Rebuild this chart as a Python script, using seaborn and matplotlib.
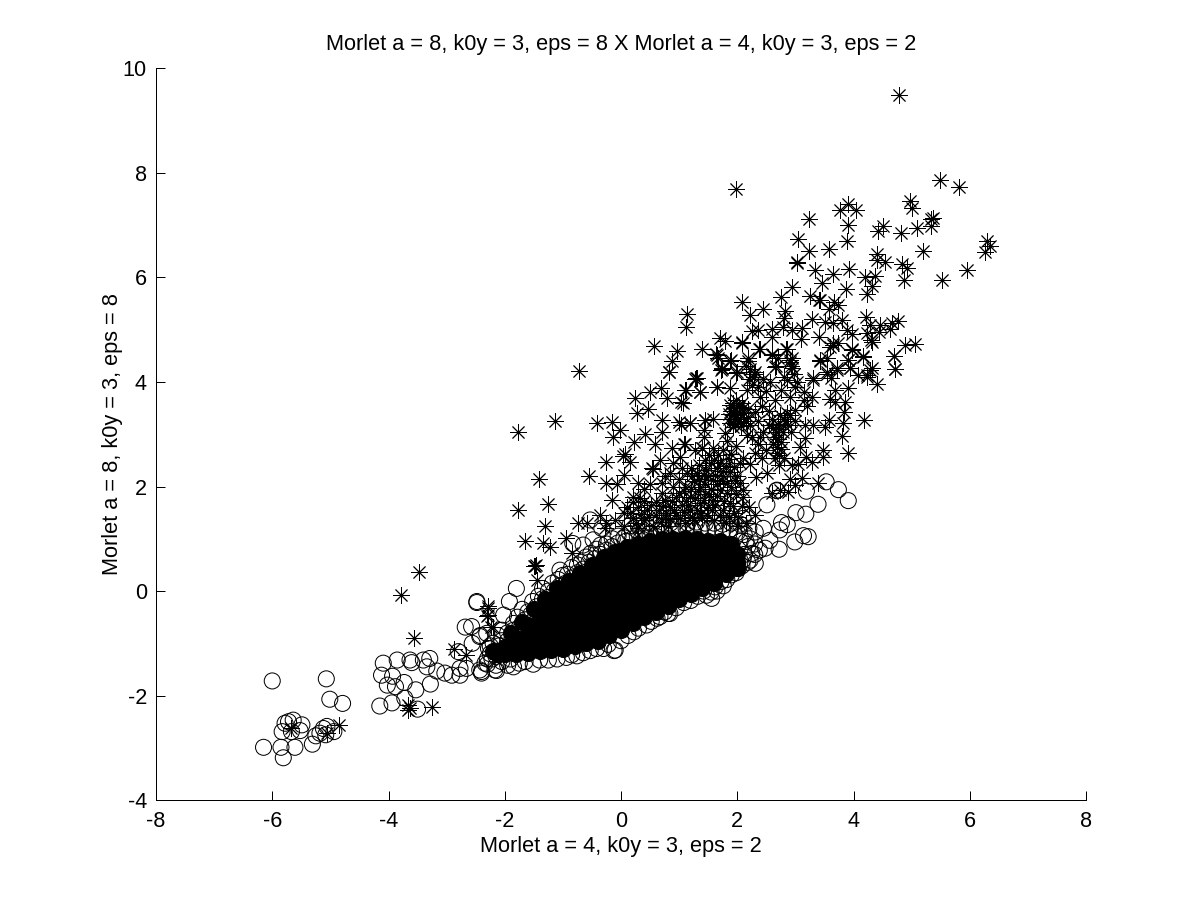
import matplotlib
matplotlib.use("Agg")
import matplotlib.pyplot as plt
import pandas as pd
import seaborn as sns

# values, (x, y)
star_pts = [
    (4.79, 9.50), (1.98, 7.70), (5.49, 7.86), (5.82, 7.73), (4.98, 7.47), (5.00, 7.32), (3.91, 7.41), (3.77, 7.29),
    (4.05, 7.30), (3.24, 7.12), (5.37, 7.13), (5.34, 7.11), (5.33, 6.99), (3.91, 7.00), (3.89, 6.70), (4.51, 6.98),
    (4.43, 6.89), (4.81, 6.86), (5.09, 6.94), (6.29, 6.70), (6.35, 6.60), (6.27, 6.49), (3.05, 6.73), (3.23, 6.50),
    (3.57, 6.55), (3.03, 6.30), (3.02, 6.28), (3.33, 6.15), (3.64, 6.06), (3.93, 6.17), (4.40, 6.45), (4.41, 6.33),
    (4.54, 6.29), (4.83, 6.25), (4.92, 6.18), (5.19, 6.51), (4.87, 5.96), (5.53, 5.96), (5.96, 6.15), (4.20, 6.01),
    (4.37, 6.03), (4.31, 5.84), (4.23, 5.69), (3.87, 5.77), (3.45, 5.90), (2.94, 5.81), (2.76, 5.62), (3.25, 5.64),
    (3.40, 5.57), (3.42, 5.56), (3.67, 5.53), (3.74, 5.47), (3.57, 5.39), (2.09, 5.53), (2.45, 5.39), (2.22, 5.29),
    (2.83, 5.36), (2.80, 5.23), (3.29, 5.21), (1.14, 5.31), (1.12, 5.06), (2.79, 5.06), (2.94, 5.00), (3.11, 5.04),
    (2.59, 5.02), (2.35, 4.99), (2.26, 4.98), (3.51, 5.15), (3.64, 5.12), (3.81, 5.18), (4.21, 5.25), (4.28, 5.09),
    (4.46, 5.09), (4.66, 5.12), (4.76, 5.16), (4.63, 5.02), (4.44, 4.95), (4.23, 4.93), (3.97, 4.92), (3.89, 5.00),
    (1.71, 4.85), (1.79, 4.78), (2.08, 4.76), (2.60, 4.86), (3.10, 4.83), (3.41, 4.86), (3.65, 4.74), (3.74, 4.74),
    (3.60, 4.67), (4.30, 4.80), (0.57, 4.69), (0.97, 4.59), (1.39, 4.64), (2.37, 4.64), (2.84, 4.64), (3.97, 4.62),
    (4.89, 4.71), (5.06, 4.72), (1.63, 4.53), (1.67, 4.45), (0.87, 4.40), (1.89, 4.43), (2.60, 4.51), (2.19, 4.45),
    (2.91, 4.42), (3.42, 4.40), (3.54, 4.45), (3.91, 4.43), (4.17, 4.50), (4.70, 4.50), (0.83, 4.20), (1.72, 4.23),
    (1.98, 4.18), (2.28, 4.16), (2.66, 4.30), (2.92, 4.30), (3.54, 4.16), (3.71, 4.23), (3.94, 4.26), (4.28, 4.23),
    (4.71, 4.24), (1.30, 4.07), (3.31, 4.07), (4.23, 4.13),
    # upper fan, middle
    (1.65, 4.51), (2.08, 4.74), (2.39, 4.64), (2.59, 4.53), (2.85, 4.64), (3.65, 4.70), (3.97, 4.64), (4.31, 4.77),
    (1.88, 4.40), (1.73, 4.24), (2.19, 4.40), (1.99, 4.19), (2.30, 4.19), (2.28, 4.10), (2.65, 4.29), (2.91, 4.39),
    (2.94, 4.26), (2.56, 4.00), (2.85, 4.04), (3.02, 4.00), (3.31, 4.04), (3.42, 4.42), (3.71, 4.26), (3.54, 4.19),
    (3.62, 4.07), (3.91, 4.42), (4.17, 4.48), (3.94, 4.26), (4.31, 4.26), (4.23, 4.10), (4.08, 4.13), (4.41, 3.97),
    (4.70, 4.49), (4.71, 4.24), (3.90, 3.88), (1.27, 4.05), (1.12, 3.84), (1.36, 3.81), (1.65, 3.91), (1.88, 3.88),
    (2.16, 3.84), (2.39, 3.72), (2.65, 3.65), (2.91, 3.72), (3.14, 3.65), (3.28, 3.72), (2.99, 3.91), (3.68, 3.84),
    (3.60, 3.68), (3.85, 3.62), (3.84, 3.43), (3.68, 3.62), (1.06, 3.59), (1.88, 3.56), (1.99, 3.43), (1.85, 3.30),
    (2.19, 3.33), (1.93, 3.14), (2.10, 3.21), (1.79, 3.02), (2.16, 2.98), (2.39, 2.95), (2.54, 3.17), (2.74, 3.37),
    (2.91, 3.37), (2.88, 3.17), (3.00, 3.46), (3.17, 3.17), (3.31, 3.17), (3.57, 3.27), (3.51, 3.13), (3.82, 3.21),
    (4.18, 3.28), (3.80, 2.97), (3.17, 2.92), (2.65, 2.95), (2.68, 2.76), (3.47, 2.70), (3.91, 2.65), (3.08, 2.76),
    (3.48, 2.57), (3.19, 2.57), (3.29, 2.47), (2.65, 2.54), (2.71, 2.41), (2.94, 2.41), (3.05, 2.44), (1.44, 3.27),
    (1.59, 3.30), (1.19, 3.21), (1.04, 3.17), (1.42, 3.08), (1.42, 2.95), (1.10, 2.82), (1.39, 2.73), (1.59, 2.73),
    (1.67, 2.60), (1.76, 2.70), (2.10, 2.54), (2.22, 2.44), (2.36, 2.82), (2.25, 2.95), (1.27, 2.70), (1.13, 2.25),
    (1.30, 2.25), (1.47, 2.31), (1.59, 2.12), (1.88, 2.28), (1.96, 2.12), (2.10, 1.93), (2.33, 2.19), (2.51, 2.25),
    (2.91, 2.15), (3.11, 2.17), (3.39, 2.06), (2.99, 2.03), (2.88, 1.90), (2.59, 1.87), (2.74, 1.93), (2.10, 1.80),
    (1.70, 1.93), (1.36, 2.00), (1.19, 1.80), (1.36, 1.68), (1.59, 1.74), (1.88, 1.68), (2.05, 2.06), (1.82, 2.06),
    # dark patches
    (1.90, 3.45), (1.95, 3.50), (2.00, 3.30), (2.05, 3.40), (2.10, 3.50), (1.96, 3.20), (2.02, 3.25), (2.15, 3.25),
    (1.92, 3.60), (1.98, 3.65), (2.08, 3.60), (2.70, 3.20), (2.72, 3.10), (2.66, 3.05), (2.70, 2.90), (2.75, 2.85),
    (2.68, 2.65), (2.72, 2.60), (2.80, 3.30), (2.85, 3.40), (2.15, 4.30), (2.22, 4.25), (2.20, 4.05), (2.25, 3.95),
    (2.95, 4.45), (2.98, 4.15), (3.15, 3.80), (3.20, 3.55), (1.55, 2.45), (1.60, 2.50), (1.70, 2.45), (1.65, 2.35),
    (1.50, 2.20), (1.75, 2.20), (1.80, 2.40), (1.45, 2.05), (1.55, 1.95), (1.65, 2.05), (1.75, 2.10), (1.90, 2.00),
    (2.00, 2.20), (1.25, 2.10), (1.35, 2.15), (1.20, 1.95), (1.45, 1.85), (1.15, 1.65), (1.30, 1.55), (1.50, 1.60),
    (1.75, 1.55), (1.95, 1.50), (2.20, 1.60), (2.30, 1.45), (2.15, 1.30),
    (1.86, 3.38), (1.94, 3.36), (2.03, 3.52), (2.12, 3.40), (2.18, 3.48), (2.06, 3.15), (1.88, 3.22), (2.22, 3.18),
    (2.30, 3.42), (2.35, 3.25), (2.45, 3.05), (2.60, 3.30), (2.62, 3.12), (2.78, 3.05), (2.82, 3.25), (2.76, 2.72),
    (2.62, 2.82), (2.80, 2.55), (2.92, 3.05), (3.00, 3.25), (2.50, 2.70), (2.42, 2.55), (2.30, 2.65), (1.98, 2.78),
    (1.90, 2.62), (1.82, 2.88), (2.05, 2.45), (1.95, 2.38), (1.85, 2.52), (1.52, 2.60), (1.45, 2.50), (1.35, 2.42),
    (2.42, 3.55), (2.50, 3.82), (2.75, 3.85), (2.80, 4.10), (2.45, 4.05), (2.70, 4.45), (2.35, 3.90), (2.55, 3.45),
    # left and above the core
    (-0.73, 4.21), (-1.13, 3.25), (-1.77, 3.04), (-0.42, 3.21), (-0.16, 3.23), (-0.02, 3.08), (-0.13, 2.95),
    (0.24, 3.69), (0.50, 3.81), (0.68, 3.88), (0.79, 3.69), (1.04, 3.62), (1.10, 3.84), (1.29, 4.07), (1.36, 3.81),
    (1.66, 3.91), (0.83, 4.20), (1.73, 4.26), (0.27, 3.40), (0.46, 3.49), (0.70, 3.28), (1.00, 3.24), (1.19, 3.21),
    (1.44, 3.27), (0.41, 3.00), (0.70, 3.05), (0.58, 2.82), (0.22, 2.86), (0.87, 2.73), (1.08, 2.82), (1.39, 2.73),
    (0.07, 2.63), (0.03, 2.58), (-0.26, 2.47), (0.15, 2.47), (0.53, 2.35), (0.55, 2.33), (0.67, 2.51), (1.02, 2.57),
    (-0.55, 2.20), (-1.41, 2.14), (0.05, 2.22), (-0.25, 2.06), (-0.07, 2.05), (0.30, 2.06), (0.70, 2.06), (0.70, 1.87),
    (-1.78, 1.55), (-1.26, 1.66), (-0.16, 1.74), (0.21, 1.80), (-1.31, 1.24), (-0.36, 1.45), (-0.74, 1.31),
    (-0.59, 1.31), (-0.25, 1.30), (-0.28, 1.20), (-1.66, 0.96), (-0.94, 1.01), (-1.35, 0.91), (-1.23, 0.84),
    (-1.48, 0.48), (-1.47, 0.49), (-1.49, 0.47), (-1.45, 0.21), (-2.28, -0.33), (-2.28, -0.46), (-2.23, -0.68),
    (-0.85, 0.72),
    # band right above the core
    (0.20, 1.70), (0.32, 1.78), (0.40, 1.72), (0.10, 1.60), (0.30, 1.60), (0.45, 1.55), (0.60, 1.70), (0.75, 1.75),
    (0.85, 1.60), (0.95, 1.80), (1.05, 1.65), (0.90, 2.00), (1.00, 2.15), (0.85, 2.25), (1.05, 2.35), (0.95, 1.45),
    (0.75, 1.40), (0.60, 1.45), (0.40, 1.35), (0.20, 1.40), (0.05, 1.50), (-0.10, 1.35), (0.05, 1.25), (0.30, 1.20),
    (0.55, 1.25), (0.80, 1.25), (1.10, 1.30), (1.25, 1.35), (1.40, 1.40), (1.60, 1.35), (1.80, 1.30), (2.00, 1.25),
    (1.10, 2.00), (1.20, 2.35), (0.90, 2.45), (0.75, 2.20), (0.50, 2.05), (0.40, 1.95),
    (0.65, 1.55), (0.72, 1.62), (0.88, 1.72), (0.92, 1.55), (1.00, 1.88), (1.08, 1.92), (1.12, 1.72), (1.18, 1.55),
    (1.22, 1.42), (1.28, 1.78), (1.32, 1.92), (1.38, 1.50), (1.42, 1.75), (1.48, 1.45), (1.52, 1.85), (1.56, 1.55),
    (1.62, 1.65), (1.66, 1.82), (1.70, 1.45), (1.78, 1.72), (1.82, 1.88), (1.85, 1.42), (1.92, 1.62), (1.98, 1.85),
    (2.02, 1.42), (2.08, 1.62), (0.15, 1.50), (0.25, 1.30), (0.35, 1.48), (0.48, 1.42), (0.52, 1.65), (0.68, 1.32),
    (0.78, 1.50), (0.85, 1.38), (1.02, 1.40), (1.08, 1.52), (1.75, 2.30), (1.62, 2.22), (1.42, 2.22), (1.22, 2.20),
    # far left
    (-3.47, 0.36), (-3.78, -0.08), (-3.56, -0.90), (-2.87, -1.10), (-2.67, -1.22), (-2.28, -0.28), (-2.30, -0.48),
    (-2.20, -0.68), (-3.66, -2.18), (-3.66, -2.27), (-3.63, -2.24), (-3.25, -2.21), (-4.85, -2.56), (-5.06, -2.72),
    (-5.67, -2.63),
]

circle_pts = [
    (3.53, 2.09), (3.74, 1.94), (3.91, 1.73), (3.19, 1.91), (3.39, 1.66), (2.51, 1.65), (2.68, 1.93), (2.68, 1.92),
    (3.01, 1.50), (3.18, 1.47), (2.86, 1.27), (2.76, 1.31), (2.73, 1.17), (3.14, 1.06), (3.22, 1.04), (2.99, 0.94),
    (2.72, 0.80), (2.45, 1.20), (2.31, 1.13), (2.56, 0.97), (2.48, 0.82), (2.31, 0.53), (2.22, 0.59), (2.10, 1.39),
    (1.76, 0.10), (1.56, -0.14), (1.47, -0.08), (1.65, 0.00), (1.90, 0.31), (2.02, 0.43),
    (-0.12, -1.14), (0.30, -0.71), (0.44, -0.65), (0.67, -0.49), (0.84, -0.43), (-0.30, -1.10), (-0.53, -1.14),
    (-0.76, -1.24), (-0.94, -1.27), (-1.25, -1.32), (-1.51, -1.40), (-1.85, -1.45), (-2.14, -1.52), (-2.40, -1.57),
    (-2.43, -1.51), (-1.80, 0.05), (-2.48, -0.20), (-1.92, -0.20), (-2.02, -0.46), (-2.43, -0.87), (-2.57, -0.68),
    (-2.31, -0.81),
    (-6.00, -1.72), (-5.07, -1.68), (-5.01, -2.07), (-4.79, -2.15), (-6.15, -2.99), (-5.85, -2.99), (-5.81, -3.19),
    (-5.61, -2.99), (-5.31, -2.93), (-5.25, -2.77), (-5.18, -2.72), (-5.08, -2.75), (-4.94, -2.69), (-5.06, -2.59),
    (-5.12, -2.63), (-5.83, -2.69), (-5.78, -2.53), (-5.72, -2.50), (-5.64, -2.47), (-5.49, -2.56), (-5.52, -2.67),
    (-5.67, -2.69),
    (-4.15, -2.20), (-3.94, -2.14), (-3.72, -2.05), (-3.50, -2.26), (-3.53, -1.89), (-3.28, -1.78), (-3.73, -1.75),
    (-4.02, -1.80), (-3.88, -1.83), (-3.93, -1.63), (-4.12, -1.61), (-4.09, -1.38), (-3.85, -1.32), (-3.63, -1.32),
    (-3.60, -1.37), (-3.40, -1.32), (-3.29, -1.29), (-3.34, -1.45), (-3.17, -1.53), (-3.03, -1.57), (-2.91, -1.61),
    (-2.77, -1.61), (-2.77, -1.48), (-2.66, -1.48), (-2.80, -1.16), (-2.56, -1.00), (-2.68, -0.69), (-2.48, -0.22),
    (-2.42, -0.85), (-2.40, -1.54), (-2.34, -1.38), (-2.17, -1.51),
    (-1.05, 0.40), (-0.83, 0.91), (-0.53, 1.36), (-0.33, 1.20), (-0.65, 0.88), (-0.48, 0.98), (-0.10, -1.13),
    (0.81, -0.43),
    # fringe of the core, top side
    (-2.28, -1.10), (-2.20, -1.00), (-2.12, -0.85), (-2.05, -0.75), (-1.95, -0.80), (-1.85, -0.62), (-1.78, -0.50),
    (-1.70, -0.35), (-1.60, -0.40), (-1.52, -0.20), (-1.42, -0.10), (-1.35, 0.05), (-1.25, 0.00), (-1.18, 0.15),
    (-1.08, 0.22), (-1.00, 0.30), (-0.92, 0.32), (-0.85, 0.45), (-0.75, 0.50), (-0.68, 0.55), (-0.60, 0.65),
    (-0.52, 0.72), (-0.42, 0.80), (-0.35, 0.88), (-0.25, 0.90), (-0.15, 1.00), (-0.05, 1.05), (0.05, 1.02),
    (0.15, 1.10), (0.28, 1.05), (0.38, 1.12), (0.50, 1.10), (0.62, 1.15), (0.75, 1.10), (0.88, 1.18), (1.00, 1.12),
    (1.12, 1.20), (1.25, 1.15), (1.38, 1.22), (1.50, 1.18), (1.62, 1.20), (1.75, 1.15), (1.88, 1.18), (2.00, 1.12),
    (2.12, 1.08), (2.22, 1.00), (2.30, 0.90), (2.38, 0.78), (2.18, 0.85), (2.05, 0.95), (2.25, 0.72), (2.12, 0.70),
    (-2.30, -1.30), (-2.25, -1.05), (-2.15, -1.25), (-2.10, -1.05), (-2.05, -0.95), (-1.95, -0.95), (-1.90, -1.30),
    (-1.85, -0.75), (-1.75, -0.70), (-1.65, -0.55), (-1.55, -0.45), (-1.45, -0.30), (-1.35, -0.15), (-1.25, -0.12),
    (-1.15, 0.00), (-1.05, 0.10), (-0.95, 0.15), (-0.85, 0.25), (-0.75, 0.35), (-0.65, 0.42), (-0.55, 0.55),
    (-0.45, 0.62), (-0.35, 0.70), (-0.25, 0.78), (-0.15, 0.85), (-0.05, 0.92), (0.08, 0.95), (0.20, 1.00),
    (0.35, 1.00), (0.45, 1.02), (0.60, 1.05), (0.70, 1.25), (0.85, 1.30), (1.00, 1.25), (1.15, 1.30), (1.30, 1.32),
    (1.45, 1.30), (1.60, 1.30), (1.75, 1.28), (1.90, 1.30), (2.05, 1.28), (2.20, 1.20), (0.30, 1.25), (0.50, 1.30),
    (0.15, 1.25), (2.15, 0.95), (2.30, 0.70), (2.10, 0.60),
    # fringe of the core, lower side
    (-2.30, -1.40), (-2.22, -1.30), (-2.15, -1.42), (-2.05, -1.35), (-2.25, -1.20), (-2.15, -1.18), (-1.95, -1.42),
    (-1.75, -1.38), (-1.65, -1.35), (-1.40, -1.32), (-1.10, -1.30), (-0.85, -1.22), (-0.65, -1.18), (-0.42, -1.10),
    (-0.22, -1.02), (0.00, -0.95), (0.12, -0.85), (0.22, -0.78), (0.52, -0.58), (0.62, -0.52), (0.75, -0.40),
    (0.95, -0.32), (1.08, -0.22), (1.20, -0.18), (1.32, -0.10), (1.42, 0.00), (1.55, -0.02), (1.62, 0.08),
    (1.72, 0.18), (1.82, 0.22), (1.98, 0.35), (2.08, 0.48), (2.18, 0.55),
]

# solid black middle of the cloud, where the circles overlap completely
core_pts = [
    (-2.0, -1.08), (-1.8, -1.08), (-1.8, -0.90), (-1.6, -1.05), (-1.6, -0.85), (-1.6, -0.65),
    (-1.4, -1.00), (-1.4, -0.80), (-1.4, -0.60), (-1.4, -0.42), (-1.2, -0.98), (-1.2, -0.78), (-1.2, -0.58),
    (-1.2, -0.38), (-1.2, -0.18), (-1.0, -0.95), (-1.0, -0.75), (-1.0, -0.55), (-1.0, -0.35), (-1.0, -0.15),
    (-1.0, -0.05), (-0.8, -0.92), (-0.8, -0.72), (-0.8, -0.52), (-0.8, -0.32), (-0.8, -0.12), (-0.8, 0.08),
    (-0.6, -0.88), (-0.6, -0.68), (-0.6, -0.48), (-0.6, -0.28), (-0.6, -0.08), (-0.6, 0.12), (-0.6, 0.30),
    (-0.4, -0.82), (-0.4, -0.62), (-0.4, -0.42), (-0.4, -0.22), (-0.4, -0.02), (-0.4, 0.18), (-0.4, 0.38),
    (-0.2, -0.75), (-0.2, -0.55), (-0.2, -0.35), (-0.2, -0.15), (-0.2, 0.05), (-0.2, 0.25), (-0.2, 0.45), (-0.2, 0.55),
    (0.0, -0.65), (0.0, -0.45), (0.0, -0.25), (0.0, -0.05), (0.0, 0.15), (0.0, 0.35), (0.0, 0.55), (0.0, 0.65),
    (0.2, -0.55), (0.2, -0.35), (0.2, -0.15), (0.2, 0.05), (0.2, 0.25), (0.2, 0.45), (0.2, 0.65), (0.2, 0.72),
    (0.4, -0.40), (0.4, -0.20), (0.4, 0.00), (0.4, 0.20), (0.4, 0.40), (0.4, 0.60), (0.4, 0.78),
    (0.6, -0.30), (0.6, -0.10), (0.6, 0.10), (0.6, 0.30), (0.6, 0.50), (0.6, 0.70), (0.6, 0.80),
    (0.8, -0.18), (0.8, 0.02), (0.8, 0.22), (0.8, 0.42), (0.8, 0.62), (0.8, 0.82),
    (1.0, -0.05), (1.0, 0.15), (1.0, 0.35), (1.0, 0.55), (1.0, 0.75), (1.0, 0.85),
    (1.2, 0.05), (1.2, 0.25), (1.2, 0.45), (1.2, 0.65), (1.2, 0.85), (1.4, 0.15), (1.4, 0.35), (1.4, 0.55), (1.4, 0.75),
    (1.6, 0.25), (1.6, 0.45), (1.6, 0.65), (1.6, 0.80), (1.8, 0.45), (1.8, 0.65), (1.8, 0.78),
    # top edge
    (-2.2, -1.15), (-2.1, -1.20), (-1.9, -0.80), (-1.7, -0.60), (-1.5, -0.35), (-1.3, -0.15), (-1.1, 0.05),
    (-0.9, 0.20), (-0.7, 0.35), (-0.5, 0.50), (-0.3, 0.65), (-0.1, 0.75), (0.1, 0.85), (0.3, 0.90), (0.5, 0.95),
    (0.7, 1.00), (0.9, 1.00), (1.1, 1.02), (1.3, 1.00), (1.5, 0.95), (1.7, 0.95), (1.9, 0.90), (2.0, 0.70), (2.0, 0.55),
    # lower edge
    (-2.0, -1.20), (-1.8, -1.20), (-1.6, -1.18), (-1.4, -1.15), (-1.2, -1.12), (-1.0, -1.10), (-0.8, -1.05),
    (-0.6, -1.00), (-0.4, -0.95), (-0.2, -0.85), (0.0, -0.75), (0.2, -0.62), (0.4, -0.50), (0.6, -0.40), (0.8, -0.28),
    (1.0, -0.15), (1.2, -0.05), (1.4, 0.05), (1.6, 0.15), (1.8, 0.32), (2.0, 0.45),
]

x_ticks = [-8, -6, -4, -2, 0, 2, 4, 6, 8]
y_ticks = [-4, -2, 0, 2, 4, 6, 8, 10]

stars = pd.DataFrame(star_pts, columns=["x", "y"])
circles = pd.DataFrame(circle_pts, columns=["x", "y"])
core = pd.DataFrame(core_pts, columns=["x", "y"])

sns.set_style("ticks")
plt.rcParams["font.family"] = ["Liberation Sans", "DejaVu Sans"]
plt.rcParams["axes.unicode_minus"] = False

fig = plt.figure(figsize=(12, 9), dpi=100)
ax = fig.add_axes([0.13, 0.111, 0.775, 0.813])

sns.scatterplot(data=core, x="x", y="y", marker="o", s=133, color="black", edgecolor="black", linewidth=0.72, ax=ax)
sns.scatterplot(data=circles, x="x", y="y", marker="o", s=133, facecolor="none", edgecolor="black", linewidth=0.72, ax=ax)
sns.scatterplot(data=stars, x="x", y="y", marker=(8, 2, 0), s=133, color="black", linewidth=0.65, ax=ax)

ax.set_xlim(-8, 8)
ax.set_ylim(-4, 10)
ax.set_xticks(x_ticks)
ax.set_yticks(y_ticks)
ax.tick_params(direction="in", length=6.5, width=0.72, labelsize=15.6, color="black", labelcolor="black", pad=8)
ax.tick_params(axis="y", pad=6.5)
sns.despine(ax=ax)
for side in ["left", "bottom"]:
    ax.spines[side].set_linewidth(0.72)
    ax.spines[side].set_color("black")

ax.set_title("Morlet a = 8, k0y = 3, eps = 8 X Morlet a = 4, k0y = 3, eps = 2", fontsize=15.7, color="black", pad=13)
ax.set_xlabel("Morlet a = 4, k0y = 3, eps = 2", fontsize=15.7, color="black", labelpad=3)
ax.set_ylabel("Morlet a = 8, k0y = 3, eps = 8", fontsize=15.7, color="black", labelpad=0)

fig.savefig("out.png", dpi=100)
